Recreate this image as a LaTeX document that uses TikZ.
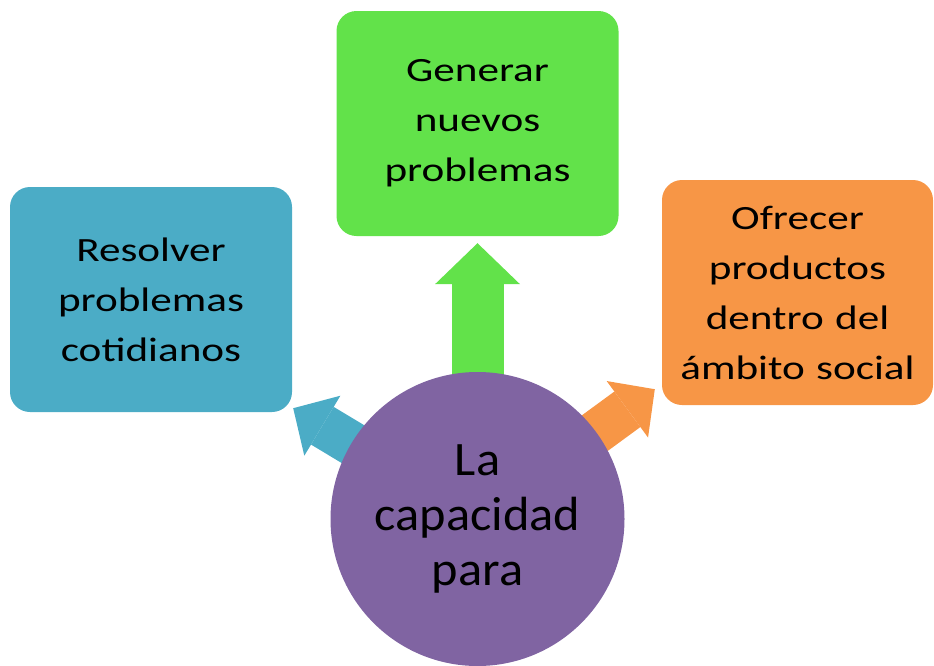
\documentclass[tikz,border=0pt]{standalone}
\usepackage{fontspec}
\setmainfont{Carlito}
\newfontfamily\boxfont{Carlito}[FakeStretch=1.27]
\newfontfamily\hubfont{Carlito}[FakeStretch=1.05]
\usetikzlibrary{arrows.meta,backgrounds}
\definecolor{ideablue}{HTML}{4BACC6}
\definecolor{ideagreen}{HTML}{62E24A}
\definecolor{ideaorange}{HTML}{F79646}
\definecolor{hubpurple}{HTML}{8064A2}
\begin{document}
\begin{tikzpicture}
[x=1pt,y=-1pt,
 ideabox/.style={shape=rectangle,rounded corners=20pt,minimum height=225pt,
   inner sep=0pt,text width=262pt,align=center,
   font=\boxfont\fontsize{34}{50}\selectfont},%
 hubnode/.style={shape=circle,fill=hubpurple,minimum size=294pt,inner sep=0pt,
   align=center,font=\hubfont\fontsize{48}{55}\selectfont},%
 sidearrow/.style={line width=44pt,-{Triangle[width=70pt,length=34pt,line width=0pt]}},%
 toparrow/.style={line width=52pt,-{Triangle[width=85pt,length=41pt,line width=0pt]}}]
\useasboundingbox (0,0) rectangle (934,665);
%% boxes
\foreach \nodename/\x/\y/\w/\colour/\words in {
  solve/151/299.5/282/ideablue/{Resolver\\problemas\\cotidianos},
  create/477.5/123.5/282/ideagreen/{Generar\\nuevos\\problemas},
  offer/797.5/292.5/271/ideaorange/{Ofrecer\\productos\\dentro del\\ámbito social}}
{
  \node (\nodename) at (\x,\y) [ideabox,minimum width=\w pt,fill=\colour] {\words};
}
\node (hub) at (477.5,519) [hubnode] {La\\capacidad\\para};
%% arrow tips
\coordinate (solvetip) at ([shift={(1,-4)}]solve.south east);
\coordinate (createtip) at ([shift={(0,7)}]create.south);
\coordinate (offertip) at ([shift={(-7,-16)}]offer.south west);
%% arrows
\begin{scope}[on background layer]
\path
\foreach \endnode/\colour/\kind in {solvetip/ideablue/sidearrow,
  createtip/ideagreen/toparrow, offertip/ideaorange/sidearrow}
{
  (hub.center) edge[\kind,draw=\colour,fill=\colour] (\endnode)
};
\end{scope}
\end{tikzpicture}
\end{document}
